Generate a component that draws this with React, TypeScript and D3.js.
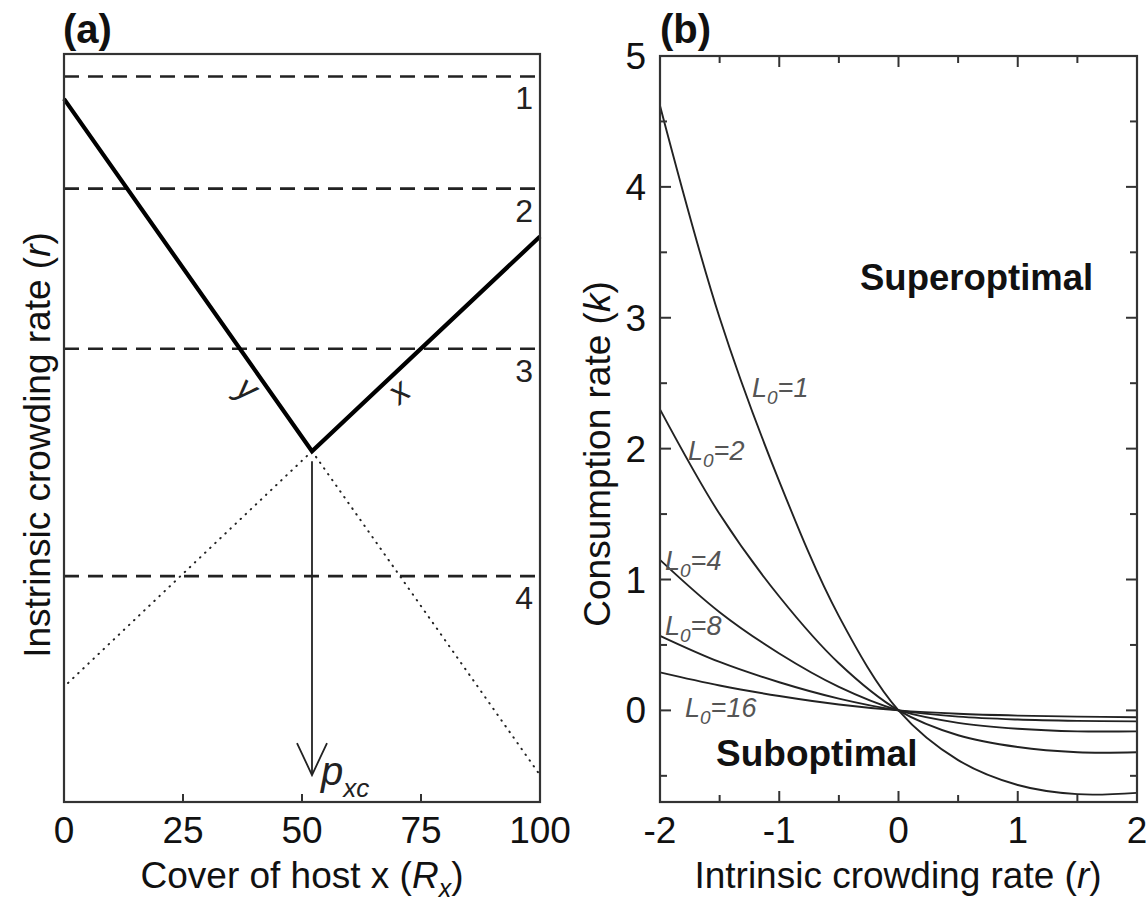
import * as d3 from "d3";

// panel (a): schematic, arbitrary y units (0 = bottom, 100 = top of frame)
const coverTicks = [0, 25, 50, 75, 100];
const dashedLevels = [97, 82, 60.6, 30.2];
const levelLabels = ["1", "2", "3", "4"];
const vShape: [number, number][] = [[0, 94], [52.1, 46.9], [100, 75.6]];
const dottedLeft: [number, number][] = [[52.1, 46.9], [0, 15.4]];
const dottedRight: [number, number][] = [[52.1, 46.9], [100, 3.6]];
const pxc = 52.1;
const arrowEnd = 3.6;

// panel (b): consumption rate k vs r, one series per L0
const rValues = [-2, -1.5, -1, -0.5, 0, 0.5, 1, 1.5, 2];
const kL1 = [4.62, 3.0, 1.75, 0.72, 0, -0.38, -0.57, -0.64, -0.63];
const kL2 = [2.3, 1.5, 0.87, 0.36, 0, -0.19, -0.28, -0.32, -0.32];
const kL4 = [1.15, 0.75, 0.435, 0.18, 0, -0.095, -0.14, -0.16, -0.16];
const kL8 = [0.57, 0.37, 0.215, 0.09, 0, -0.048, -0.07, -0.08, -0.084];
const kL16 = [0.29, 0.19, 0.11, 0.045, 0, -0.026, -0.04, -0.048, -0.052];
const series = [kL1, kL2, kL4, kL8, kL16];
const rMajor = [-2, -1, 0, 1, 2];
const rMinor = [-1.5, -0.5, 0.5, 1.5];
const kMajor = [0, 1, 2, 3, 4, 5];
const kMinor = [-0.5, 0.5, 1.5, 2.5, 3.5, 4.5];

const FONT = "'Liberation Sans', Arial, Helvetica, sans-serif";
const INK = "#222";
const FRAME = "#333";

export default function App() {
  const W = 1146, H = 903;

  const xA = d3.scaleLinear().domain([0, 100]).range([64, 540]);
  const yA = d3.scaleLinear().domain([0, 100]).range([802, 54]);
  const xB = d3.scaleLinear().domain([-2, 2]).range([660, 1137]);
  const yB = d3.scaleLinear().domain([-0.7, 5]).range([802, 56]);

  const lineA = d3.line<[number, number]>().x(d => xA(d[0])).y(d => yA(d[1]));
  const lineB = d3.line<number>()
    .x((_, i) => xB(rValues[i]))
    .y(d => yB(d))
    .curve(d3.curveCatmullRom.alpha(0.5));

  const tipX = xA(pxc), tipY = yA(arrowEnd);

  return (
    <svg width={W} height={H} viewBox={`0 0 ${W} ${H}`}
      style={{ position: "absolute", left: 0, top: 0, background: "#fff" }}
      fontFamily={FONT}>
      {/* ---------- panel (a) ---------- */}
      <text x={63} y={43} fontSize={40} fontWeight="bold" fill="#111">(a)</text>

      {dashedLevels.map((lv, i) => (
        <g key={"lv" + i}>
          <line x1={xA(0)} x2={xA(100)} y1={yA(lv)} y2={yA(lv)}
            stroke={INK} strokeWidth={2.6} strokeDasharray="15 9" />
          <text x={533} y={yA(lv) + 33} fontSize={32} textAnchor="end" fill={INK}>
            {levelLabels[i]}
          </text>
        </g>
      ))}

      <path d={lineA(dottedLeft) ?? ""} fill="none" stroke={INK} strokeWidth={2}
        strokeDasharray="0.5 6.5" strokeLinecap="round" />
      <path d={lineA(dottedRight) ?? ""} fill="none" stroke={INK} strokeWidth={2}
        strokeDasharray="0.5 6.5" strokeLinecap="round" />

      <path d={lineA(vShape) ?? ""} fill="none" stroke="#000" strokeWidth={4.2}
        strokeLinejoin="miter" />

      <line x1={tipX} x2={tipX} y1={yA(vShape[1][1]) + 10} y2={tipY} stroke={INK} strokeWidth={1.8} />
      <path d={`M ${tipX - 15} ${tipY - 32} L ${tipX} ${tipY} L ${tipX + 15} ${tipY - 32}`}
        fill="none" stroke={INK} strokeWidth={1.8} />
      <text x={tipX + 9} y={tipY + 10} fontSize={40} fontStyle="italic" fill={INK}>
        p<tspan fontSize={26} dy={12}>xc</tspan>
      </text>

      <text transform="translate(241,398) rotate(35)" fontSize={34} fontStyle="italic"
        textAnchor="middle" fill={INK}>y</text>
      <text transform="translate(406,400) rotate(-40)" fontSize={34} fontStyle="italic"
        textAnchor="middle" fill={INK}>x</text>

      <rect x={xA(0)} y={yA(100)} width={xA(100) - xA(0)} height={yA(0) - yA(100)}
        fill="none" stroke={FRAME} strokeWidth={2.2} />
      {coverTicks.slice(1, -1).map(t => (
        <line key={"ta" + t} x1={xA(t)} x2={xA(t)} y1={yA(0)} y2={yA(0) - 8}
          stroke={FRAME} strokeWidth={2} />
      ))}
      {coverTicks.map(t => (
        <text key={"la" + t} x={xA(t)} y={843} fontSize={37} textAnchor="middle" fill="#111">{t}</text>
      ))}

      <text x={302} y={888} fontSize={37} textAnchor="middle" fill="#111">
        Cover of host x (<tspan fontStyle="italic">R</tspan>
        <tspan fontStyle="italic" fontSize={25} dy={9}>x</tspan>
        <tspan dy={-9}>)</tspan>
      </text>
      <text transform="translate(50,445) rotate(-90)" fontSize={37} textAnchor="middle" fill="#111">
        Instrinsic crowding rate (<tspan fontStyle="italic">r</tspan>)
      </text>

      {/* ---------- panel (b) ---------- */}
      <text x={660} y={43} fontSize={40} fontWeight="bold" fill="#111">(b)</text>

      {series.map((s, i) => (
        <path key={"s" + i} d={lineB(s) ?? ""} fill="none" stroke={INK} strokeWidth={1.9} />
      ))}

      <rect x={xB(-2)} y={yB(5)} width={xB(2) - xB(-2)} height={yB(-0.7) - yB(5)}
        fill="none" stroke={FRAME} strokeWidth={2.2} />
      {rMajor.slice(1, -1).map(t => (
        <g key={"rM" + t}>
          <line x1={xB(t)} x2={xB(t)} y1={yB(-0.7)} y2={yB(-0.7) - 11} stroke={FRAME} strokeWidth={2} />
          <line x1={xB(t)} x2={xB(t)} y1={yB(5)} y2={yB(5) + 11} stroke={FRAME} strokeWidth={2} />
        </g>
      ))}
      {rMinor.map(t => (
        <g key={"rm" + t}>
          <line x1={xB(t)} x2={xB(t)} y1={yB(-0.7)} y2={yB(-0.7) - 7} stroke={FRAME} strokeWidth={2} />
          <line x1={xB(t)} x2={xB(t)} y1={yB(5)} y2={yB(5) + 7} stroke={FRAME} strokeWidth={2} />
        </g>
      ))}
      {kMajor.slice(0, -1).map(t => (
        <g key={"kM" + t}>
          <line x1={xB(-2)} x2={xB(-2) + 11} y1={yB(t)} y2={yB(t)} stroke={FRAME} strokeWidth={2} />
          <line x1={xB(2)} x2={xB(2) - 11} y1={yB(t)} y2={yB(t)} stroke={FRAME} strokeWidth={2} />
        </g>
      ))}
      {kMinor.map(t => (
        <g key={"km" + t}>
          <line x1={xB(-2)} x2={xB(-2) + 7} y1={yB(t)} y2={yB(t)} stroke={FRAME} strokeWidth={2} />
          <line x1={xB(2)} x2={xB(2) - 7} y1={yB(t)} y2={yB(t)} stroke={FRAME} strokeWidth={2} />
        </g>
      ))}
      {kMajor.map(t => (
        <text key={"lk" + t} x={646} y={yB(t) + 13} fontSize={37} textAnchor="end" fill="#111">{t}</text>
      ))}
      {rMajor.map(t => (
        <text key={"lr" + t} x={xB(t)} y={843} fontSize={37} textAnchor="middle" fill="#111">{t}</text>
      ))}

      <text x={898} y={888} fontSize={37} textAnchor="middle" fill="#111">
        Intrinsic crowding rate (<tspan fontStyle="italic">r</tspan>)
      </text>
      <text transform="translate(610,454) rotate(-90)" fontSize={37} textAnchor="middle" fill="#111">
        Consumption rate (<tspan fontStyle="italic">k</tspan>)
      </text>

      <text x={860} y={290} fontSize={36.5} fontWeight="bold" fill="#111">Superoptimal</text>
      <text x={716} y={766} fontSize={37} fontWeight="bold" fill="#111">Suboptimal</text>

      {[
        { x: 752, y: 397, v: "1" },
        { x: 688, y: 460, v: "2" },
        { x: 665, y: 570, v: "4" },
        { x: 665, y: 635, v: "8" },
        { x: 685, y: 717, v: "16" },
      ].map(l => (
        <text key={"L" + l.v} x={l.x} y={l.y} fontSize={27} fontStyle="italic" fill="#555">
          L<tspan fontSize={19} dy={7}>0</tspan><tspan dy={-7}>={l.v}</tspan>
        </text>
      ))}
    </svg>
  );
}
